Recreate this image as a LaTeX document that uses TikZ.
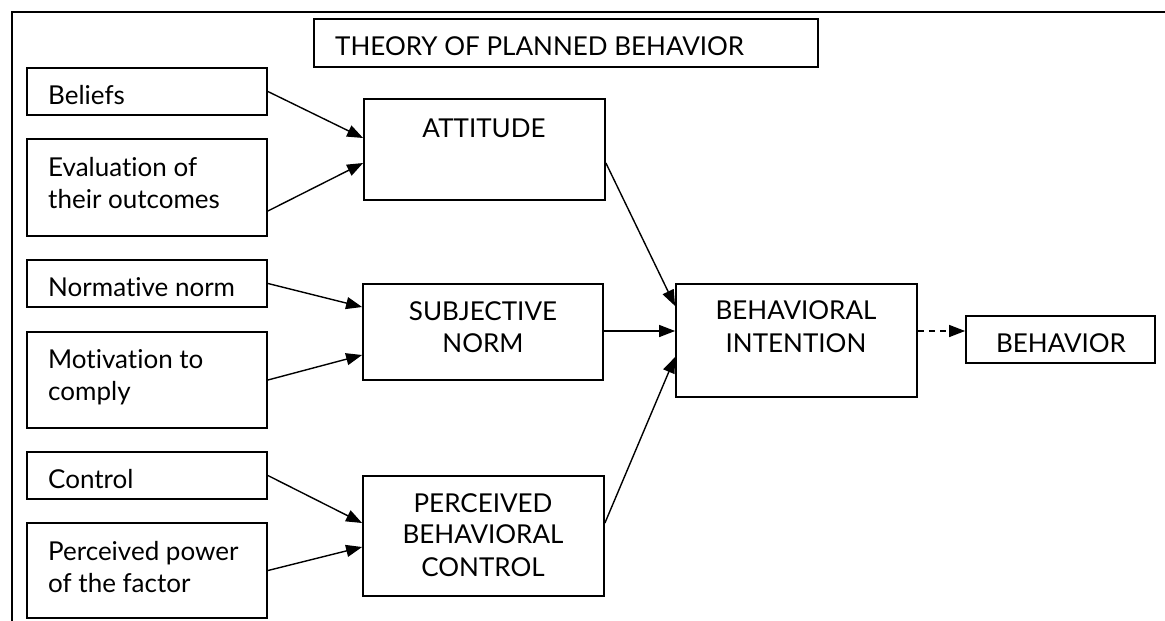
\documentclass[tikz,border=0pt]{standalone}
\usepackage{fontspec}
\setmainfont{Lato}[Ligatures={NoCommon}]
\usetikzlibrary{arrows.meta}
\begin{document}
\begin{tikzpicture}[x=1pt,y=-1pt,
  box/.style={draw, line width=1.8pt, inner sep=0pt},
  lbl/.style={font=\fontsize{26}{32}\selectfont, inner sep=0pt},
  lft/.style={lbl, anchor=base west},
  ctr/.style={lbl, anchor=base},
  arr/.style={-{Triangle[length=16pt,width=12pt]}, line width=1.4pt},
  darr/.style={arr, dashed, dash pattern=on 6pt off 5pt}]
\useasboundingbox (0,0) rectangle (1165,621);
\fill[white] (0,0) rectangle (1165,621);
% outer frame
\coordinate (fbl) at (12,621);
\coordinate (ftl) at (12,12);
\coordinate (ftr) at (1165,12);
\draw[line width=2.2pt] (fbl) -- (ftl) -- (ftr);
% boxes
\node[box, minimum width=504pt, minimum height=48pt] (title) at (566,43) {};
\node[box, minimum width=240pt, minimum height=47pt] (beliefs) at (147,91.5) {};
\node[box, minimum width=240pt, minimum height=97pt] (eval) at (147,187.5) {};
\node[box, minimum width=240pt, minimum height=47pt] (normative) at (147,283.5) {};
\node[box, minimum width=240pt, minimum height=96pt] (motiv) at (147,380) {};
\node[box, minimum width=240pt, minimum height=47pt] (control) at (147,475.5) {};
\node[box, minimum width=240pt, minimum height=95pt] (power) at (147,570.5) {};
\node[box, minimum width=241pt, minimum height=101pt] (attitude) at (484.5,149.5) {};
\node[box, minimum width=240pt, minimum height=96pt] (subj) at (483,332) {};
\node[box, minimum width=241pt, minimum height=120pt] (pbc) at (483.5,536) {};
\node[box, minimum width=241pt, minimum height=113pt] (bi) at (796.5,340.5) {};
\node[box, minimum width=189pt, minimum height=47pt] (behav) at (1060.5,339.5) {};
% texts
\node[lft] (ttitle) at (335,55) {THEORY OF PLANNED BEHAVIOR};
\node[lft] (tbel) at (48,104) {Beliefs};
\node[lft] (tev1) at (48,176) {Evaluation of};
\node[lft] (tev2) at (48,208) {their outcomes};
\node[lft] (tnor) at (48,296) {Normative norm};
\node[lft] (tmo1) at (48,368) {Motivation to};
\node[lft] (tmo2) at (48,400) {comply};
\node[lft] (tcon) at (48,488) {Control};
\node[lft] (tpo1) at (48,560) {Perceived power};
\node[lft] (tpo2) at (48,592) {of the factor};
\node[ctr] (tatt) at (484,137) {ATTITUDE};
\node[ctr] (tsn1) at (483,320) {SUBJECTIVE};
\node[ctr] (tsn2) at (483,352) {NORM};
\node[ctr] (tpb1) at (483,512) {PERCEIVED};
\node[ctr] (tpb2) at (483,543) {BEHAVIORAL};
\node[ctr] (tpb3) at (483,576) {CONTROL};
\node[ctr] (tbi1) at (796,319) {BEHAVIORAL};
\node[ctr] (tbi2) at (796,352) {INTENTION};
\node[ctr] (tbeh) at (1061,352) {BEHAVIOR};
% connectors
\draw[arr] (beliefs.east) -- ([yshift=11.5pt]attitude.west);
\draw[arr] ([yshift=-23.5pt]eval.east) -- ([yshift=-13.5pt]attitude.west);
\draw[arr] (normative.east) -- ([yshift=25pt]subj.west);
\draw[arr] (motiv.east) -- ([yshift=-23pt]subj.west);
\draw[arr] (control.east) -- ([yshift=13pt]pbc.west);
\draw[arr] (power.east) -- ([yshift=-11pt]pbc.west);
\draw[arr] ([yshift=-13.5pt]attitude.east) -- ([yshift=34.5pt]bi.west);
\draw[arr] ([yshift=1pt]subj.east) -- ([yshift=9.5pt]bi.west);
\draw[arr] ([yshift=13pt]pbc.east) -- ([yshift=-16.5pt]bi.west);
\draw[darr] ([yshift=9.5pt]bi.east) -- ([yshift=8.5pt]behav.west);
\end{tikzpicture}
\end{document}
